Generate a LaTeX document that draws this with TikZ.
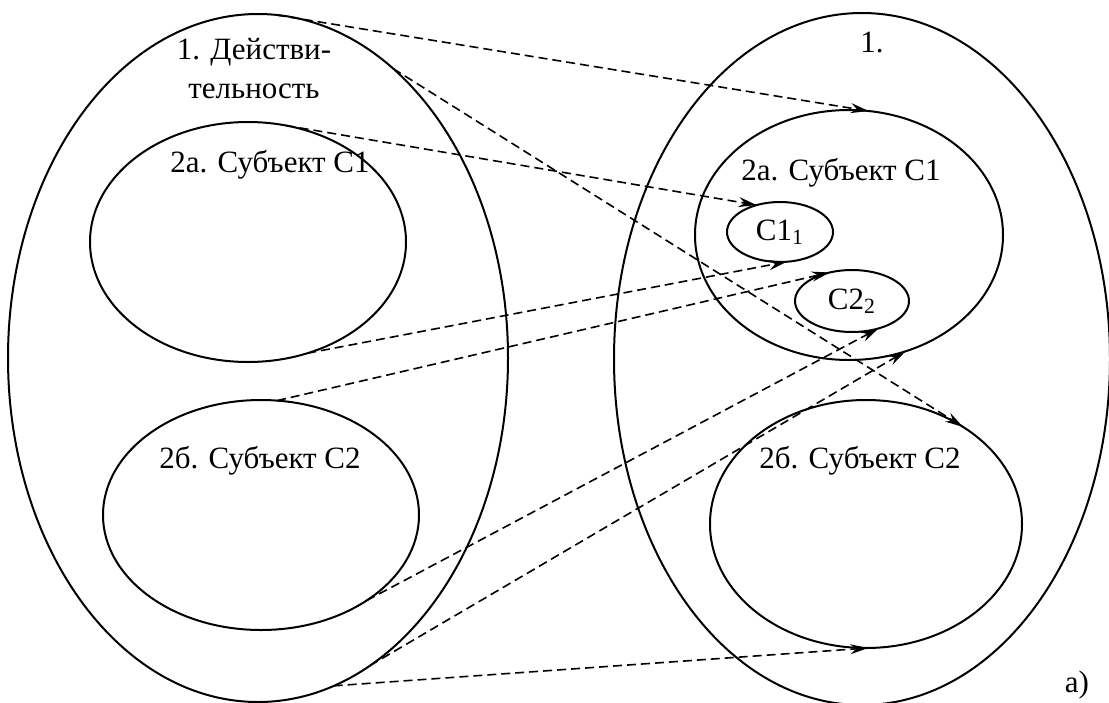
\documentclass[tikz,border=0pt]{standalone}
\usepackage{fontspec}
\setmainfont{Liberation Serif}
\usepackage{tikz}
\usetikzlibrary{positioning, shapes.geometric, arrows.meta}
\tikzset{
  % closed region = ellipse
  region/.style={ellipse, draw=black, line width=1pt,
                 inner sep=0pt, outer sep=0pt},
  % text of a region
  tag/.style={font=\rmfamily\fontsize{15.5}{19.5}\selectfont, align=center,
              inner sep=0pt},
  % dashed mapping link
  link/.style={dash pattern=on 4.5pt off 2.5pt, line width=0.8pt,
               -{Stealth[length=9pt, width=5pt, inset=3pt]}},
}

\begin{document}
\begin{tikzpicture}[x=0.5pt, y=-0.5pt]
  \useasboundingbox (0,0) rectangle (1109,702);
  % left: reality
  \node[region, minimum width=250pt, minimum height=344pt] (lft) at (258,358) {};
  \node[region, minimum width=158pt, minimum height=120pt] (lfa) at (248,242) {};
  \node[region, minimum width=158pt, minimum height=115pt] (lfb) at (261,515) {};
  \node[tag, anchor=base] (lfttxt) at (254,98) {1. Действи-\\тельность};
  \node[tag, anchor=base] (lfatxt) at (270,172) {2а. Субъект С1};
  \node[tag, anchor=base] (lfbtxt) at (260,468) {2б. Субъект С2};

  % right: model
  \node[region, minimum width=248pt, minimum height=346pt] (rgt) at (862,359) {};
  \node[region, minimum width=154pt, minimum height=125pt] (rga) at (849,235) {};
  \node[region, minimum width=156pt, minimum height=124pt] (rgb) at (866,524) {};
  \node[region, tag, minimum width=53pt, minimum height=30pt] (ca) at (780,232) {С1\textsubscript{1}};
  \node[region, tag, minimum width=57pt, minimum height=31pt] (cb) at (852,301) {С2\textsubscript{2}};
  \node[tag, anchor=base] (rgttxt) at (872,52) {1.};
  \node[tag, anchor=base] (rgatxt) at (841,180) {2а. Субъект С1};
  \node[tag, anchor=base] (rgbtxt) at (860,468) {2б. Субъект С2};
  \node[tag, anchor=base] (mark) at (1077,692) {а)};

  % links
  \draw[link] (lft.87)  -- (rga.81);
  \draw[link] (lft.65)  -- (rgb.45);
  \draw[link] (lfa.72)  -- (ca.131);
  \draw[link] (lfa.-62) -- (ca.-77);
  \draw[link] (lfb.82)  -- (cb.128);
  \draw[link] (lfb.-39) -- (cb.-46);
  \draw[link] (lft.-70) -- (rga.-64);
  \draw[link] (lft.-77) -- (rgb.-89);
\end{tikzpicture}
\end{document}
